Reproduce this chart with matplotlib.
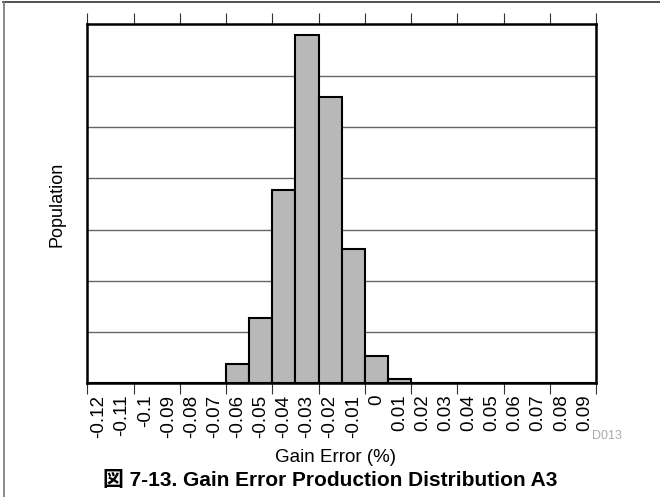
import matplotlib
matplotlib.use("Agg")
import matplotlib.pyplot as plt
from matplotlib.lines import Line2D
import numpy as np

plt.rcParams['font.family'] = ['Liberation Sans', 'Noto Sans CJK JP', 'DejaVu Sans']

categories = ["-0.12", "-0.11", "-0.1", "-0.09", "-0.08", "-0.07", "-0.06", "-0.05",
              "-0.04", "-0.03", "-0.02", "-0.01", "0", "0.01", "0.02", "0.03",
              "0.04", "0.05", "0.06", "0.07", "0.08", "0.09"]
population = [0, 0, 0, 0, 0, 0, 38, 127, 378, 680, 558, 263, 53, 8, 0, 0, 0, 0, 0, 0, 0, 0]
x_label = "Gain Error (%)"
y_label = "Population"
caption = "図 7-13. Gain Error Production Distribution A3"
code = "D013"

fig = plt.figure(figsize=(6.6, 4.97), dpi=100)
ax = fig.add_axes([0.1324, 0.2284, 0.7706, 0.7227])

x = np.arange(len(categories))
ax.bar(x, population, width=1.0, color="#b8b8b8", edgecolor="black", linewidth=1.5, zorder=3)

ax.set_xlim(-0.5, len(categories) - 0.5)
ax.set_ylim(0, 700)
ax.set_yticks(np.arange(100, 700, 100))
ax.yaxis.grid(True, color="#666666", linewidth=1.0, zorder=0)
ax.tick_params(axis="y", left=False, labelleft=False)

edges = np.arange(-0.5, len(categories), 2)
ax.set_xticks(edges)
ax.set_xticklabels([])
ax.set_xticks(x, minor=True)
ax.set_xticklabels(categories, minor=True, rotation=90, fontsize=13.5, va="top", ha="center")
ax.tick_params(axis="x", which="major", direction="out", length=8, width=0.8,
               color="#333333", top=True, bottom=True)
ax.tick_params(axis="x", which="minor", length=0, pad=8)

for s in ax.spines.values():
    s.set_linewidth(1.8)
    s.set_color("black")
    s.set_zorder(4)

ax.set_ylabel(y_label, fontsize=13, labelpad=16)
fig.text(0.508, 1 - 457 / 497, x_label, fontsize=13.5, ha="center", va="center")
fig.text(607 / 660, 1 - 436 / 497, code, fontsize=9, color="#aaaaaa", ha="center", va="center")
fig.text(330 / 660, 1 - 480 / 497, caption, fontsize=15, fontweight="bold", ha="center", va="center")

fig.add_artist(Line2D([3 / 660, 1], [1 - 2 / 497, 1 - 2 / 497], color="#333333", linewidth=1.2))
fig.add_artist(Line2D([4 / 660, 4 / 660], [0, 1 - 2 / 497], color="#777777", linewidth=1.2))

fig.savefig("out.png", dpi=100)
